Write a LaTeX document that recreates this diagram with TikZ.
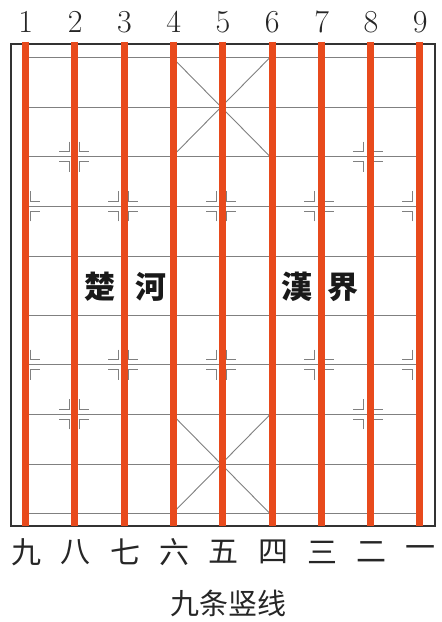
\documentclass[tikz,border=0pt]{standalone}
\usepackage{fontspec}
\newfontfamily\cjk{Noto Sans CJK SC}
\definecolor{barred}{RGB}{232,74,28}
\newcommand\xqR[2]{\draw[markln] ({#1+5},{#2-15}) -- ({#1+5},{#2-5}) -- ({#1+15},{#2-5});
  \draw[markln] ({#1+5},{#2+15}) -- ({#1+5},{#2+5}) -- ({#1+15},{#2+5});}
\newcommand\xqL[2]{\draw[markln] ({#1-5},{#2-15}) -- ({#1-5},{#2-5}) -- ({#1-15},{#2-5});
  \draw[markln] ({#1-5},{#2+15}) -- ({#1-5},{#2+5}) -- ({#1-15},{#2+5});}
\begin{document}
\begin{tikzpicture}[x=1pt,y=-1pt,
  gridln/.style={line width=0.9pt, draw=black!50},
  markln/.style={line width=0.9pt, draw=black!50},
  redbar/.style={line width=7pt, draw=barred},
  frameln/.style={line width=2pt, draw=black!80},
  digit/.style={font=\fontsize{32}{32}\selectfont, inner sep=0pt, text=black!85},
  cnum/.style={font=\cjk\fontsize{30}{30}\selectfont, inner sep=0pt, text=black!85},
  river/.style={font=\cjk\bfseries\fontsize{31}{31}\selectfont, inner sep=0pt, text=black!90},
  caption/.style={font=\cjk\fontsize{29}{29}\selectfont, inner sep=0pt, text=black!85}]
\useasboundingbox (0,0) rectangle (442,622);
\fill[white] (0,0) rectangle (442,622);
% frame
\draw[frameln] (11,44) rectangle (435,526);
% grid horizontals
\foreach \y in {57.3,107,156.7,206.4,256.1,315,364.7,414.4,464.1,513.8}
  \draw[gridln] (25,\y) -- (417.3,\y);
% grid verticals
\draw[gridln] (25,57.3) -- (25,513.8);
\draw[gridln] (417.3,57.3) -- (417.3,513.8);
\foreach \k in {1,...,7} {
  \draw[gridln] ({25+49.04*\k},57.3) -- ({25+49.04*\k},256.1);
  \draw[gridln] ({25+49.04*\k},315) -- ({25+49.04*\k},513.8);
}
% palaces
\draw[gridln] (172.12,57.3) -- (270.2,156.7) (270.2,57.3) -- (172.12,156.7);
\draw[gridln] (172.12,414.4) -- (270.2,513.8) (270.2,414.4) -- (172.12,513.8);
% cannon marks
\foreach \y in {156.7,414.4} {
  \foreach \x in {74.04,368.28} { \xqR{\x}{\y} \xqL{\x}{\y} }
}
% soldier marks
\foreach \y in {206.4,364.7} {
  \xqR{25}{\y}
  \foreach \x in {123.08,221.16,319.24} { \xqR{\x}{\y} \xqL{\x}{\y} }
  \xqL{417.3}{\y}
}
% red bars
\foreach \k in {0,...,8}
  \draw[redbar] ({25.5+49.3*\k},41.5) -- ({25.5+49.3*\k},526);
% top digits
\foreach \k/\t in {0/1,1/2,2/3,3/4,4/5,5/6,6/7,7/8,8/9}
  \node[digit] (d\t) at ({25.8+49.3*\k},22) {\t};
% bottom numerals
\foreach \k/\t/\n in {0/九/n9,1/八/n8,2/七/n7,3/六/n6,4/五/n5,5/四/n4,6/三/n3,7/二/n2,8/一/n1}
  \node[cnum] (\n) at ({26.5+49.3*\k},552) {\t};
% river
\node[river] (chu) at (100,287) {楚};
\node[river] (he) at (151,287) {河};
\node[river] (han) at (297,287) {漢};
\node[river] (jie) at (343,287) {界};
% caption
\node[caption] (cap) at (228,603) {九条竖线};
\end{tikzpicture}
\end{document}
